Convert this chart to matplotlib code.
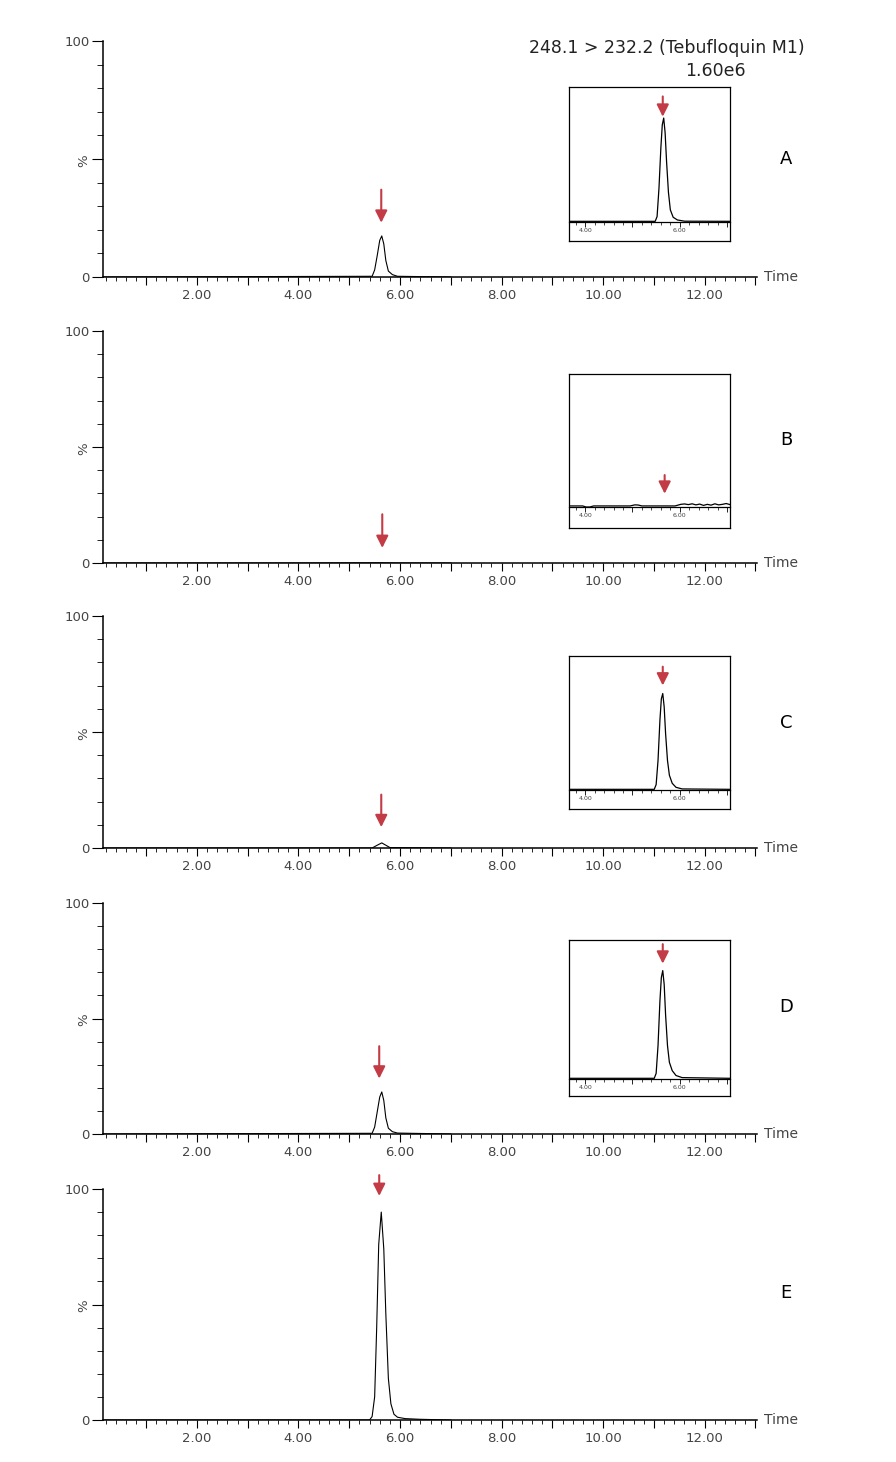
import matplotlib.pyplot as plt
from matplotlib.ticker import MultipleLocator, FixedLocator, FuncFormatter

W, H = 896, 1462

panels = ['A', 'B', 'C', 'D', 'E']
title = '248.1 > 232.2 (Tebufloquin M1)'
scale = '1.60e6'

# main chromatograms: time (min), intensity (%)
t_a = [0.15, 5.45, 5.50, 5.55, 5.60, 5.64, 5.68, 5.72, 5.77, 5.85, 5.95, 7.0]
i_a = [0.0, 0.3, 3.0, 9.0, 15.5, 17.4, 14.0, 7.0, 2.5, 1.0, 0.3, 0.0]
t_b = [0.15, 2.0, 4.0, 5.6, 6.0, 7.0]
i_b = [0.0, 0.0, 0.0, 0.1, 0.0, 0.0]
t_c = [0.15, 5.45, 5.55, 5.64, 5.72, 5.80, 7.0]
i_c = [0.0, 0.0, 1.2, 2.2, 1.2, 0.2, 0.0]
t_d = [0.15, 5.45, 5.50, 5.55, 5.60, 5.64, 5.68, 5.72, 5.77, 5.85, 5.95, 7.0]
i_d = [0.0, 0.3, 3.0, 9.5, 16.0, 18.2, 14.5, 7.0, 2.5, 1.0, 0.4, 0.0]
t_e = [0.15, 5.40, 5.45, 5.50, 5.54, 5.58, 5.63, 5.68, 5.72, 5.77, 5.82, 5.88, 5.95, 6.10, 6.40, 7.0]
i_e = [0.0, 0.0, 1.5, 10.0, 40.0, 76.0, 90.0, 74.0, 46.0, 18.0, 7.0, 2.5, 1.2, 0.6, 0.3, 0.0]
main_t = [t_a, t_b, t_c, t_d, t_e]
main_i = [i_a, i_b, i_c, i_d, i_e]

arrow_x = [5.63, 5.65, 5.63, 5.59, 5.59]
arrow_top = [37, 21, 23, 38, 106]
arrow_tip = [23, 6.5, 9, 24, 97]

# zoomed insets (panels A-D)
it_a = [3.66, 5.48, 5.52, 5.56, 5.60, 5.63, 5.66, 5.69, 5.72, 5.76, 5.80, 5.86, 5.95, 6.10, 7.06]
ii_a = [0.5, 0.5, 4.0, 25.0, 55.0, 72.0, 77.0, 66.0, 45.0, 22.0, 9.0, 3.5, 1.5, 0.6, 0.5]
it_b = [3.66, 3.95, 4.02, 4.10, 4.18, 4.5, 4.95, 5.05, 5.12, 5.20, 5.5, 5.9, 6.02, 6.1, 6.18,
        6.26, 6.34, 6.42, 6.5, 6.58, 6.66, 6.74, 6.82, 6.9, 6.98, 7.06]
ii_b = [0.8, 0.8, 0.0, 0.0, 0.8, 0.8, 0.8, 1.6, 1.5, 0.8, 0.8, 0.8, 2.0, 2.3, 1.8,
        2.4, 1.6, 2.2, 1.2, 2.0, 1.4, 2.4, 1.6, 2.0, 2.6, 1.8]
it_c = [3.66, 5.46, 5.50, 5.54, 5.58, 5.61, 5.64, 5.67, 5.70, 5.74, 5.78, 5.84, 5.92, 6.05, 7.06]
ii_c = [0.5, 0.5, 4.0, 22.0, 52.0, 68.0, 72.0, 62.0, 42.0, 22.0, 11.0, 5.0, 2.0, 0.8, 0.5]
it_d = [3.66, 5.46, 5.50, 5.54, 5.58, 5.61, 5.64, 5.67, 5.70, 5.74, 5.78, 5.84, 5.92, 6.05, 7.06]
ii_d = [0.5, 0.5, 4.0, 24.0, 56.0, 73.0, 78.0, 68.0, 46.0, 24.0, 12.0, 6.0, 2.5, 1.0, 0.5]
inset_t = [it_a, it_b, it_c, it_d]
inset_i = [ii_a, ii_b, ii_c, ii_d]

inset_arrow_x = [5.64, 5.68, 5.64, 5.64]
inset_arrow_top = [93, 24, 92, 97]
inset_arrow_tip = [78, 10, 78, 83]

red = '#c23b45'
grey = '#444444'

# pixel layout
main_box = [(41, 277), (331, 563), (616, 848), (903, 1134), (1189, 1420)]
inset_box = [(87, 241, 222), (374, 528, 507), (656, 809, 790), (940, 1096, 1079)]
letter_y = [50, 53, 54, 55, 55]


def rect(x0, y0, x1, y1):
    return [x0 / W, 1 - y1 / H, (x1 - x0) / W, (y1 - y0) / H]


def xfmt(v, p):
    r = round(v)
    if abs(v - r) < 1e-6 and r % 2 == 0 and r > 0:
        return '%.2f' % v
    return ''


def arrow(ax, x, top, tip):
    ax.annotate('', xy=(x, tip), xytext=(x, top),
                arrowprops=dict(arrowstyle='-|>,head_length=0.4,head_width=0.2',
                                color=red, lw=1.5, mutation_scale=18,
                                shrinkA=0, shrinkB=0),
                annotation_clip=False)


fig = plt.figure(figsize=(W / 100, H / 100), dpi=100)

for k, name in enumerate(panels):
    y0, y1 = main_box[k]
    ax = fig.add_axes(rect(103, y0, 757, y1))
    ax.plot(main_t[k], main_i[k], color='black', lw=0.8)
    ax.set_xlim(0.15, 13.03)
    ax.set_ylim(0, 100)
    for s in ['top', 'right']:
        ax.spines[s].set_visible(False)
    for s in ['left', 'bottom']:
        ax.spines[s].set_linewidth(1.1)
    ax.xaxis.set_major_locator(MultipleLocator(1))
    ax.xaxis.set_minor_locator(MultipleLocator(0.2))
    ax.xaxis.set_major_formatter(FuncFormatter(xfmt))
    ax.yaxis.set_major_locator(FixedLocator([0, 50, 100]))
    ax.yaxis.set_minor_locator(MultipleLocator(10))
    ax.set_yticklabels(['0', '%', '100'])
    ax.get_yticklabels()[1].set_rotation(90)
    ax.tick_params(axis='x', which='major', length=6, width=0.8, labelsize=9.5,
                   labelcolor=grey, pad=2.5)
    ax.tick_params(axis='x', which='minor', length=3, width=0.6)
    ax.tick_params(axis='y', which='major', length=8, width=0.8, labelsize=9.5,
                   labelcolor=grey, pad=1.5)
    ax.tick_params(axis='y', which='minor', length=4, width=0.6)
    ax.text(1.01, 0, 'Time', transform=ax.transAxes, fontsize=10, color=grey,
            ha='left', va='center')
    ax.text(13.6, letter_y[k], name, fontsize=13, ha='center', va='center',
            clip_on=False)
    arrow(ax, arrow_x[k], arrow_top[k], arrow_tip[k])

    if k < 4:
        b0, b1, base = inset_box[k]
        box = fig.add_axes(rect(569, b0, 730, b1))
        box.set_xticks([])
        box.set_yticks([])
        for s in box.spines.values():
            s.set_linewidth(0.9)
        ins = fig.add_axes(rect(569, b0, 730, base))
        ins.patch.set_alpha(0)
        ins.plot(inset_t[k], inset_i[k], color='black', lw=0.9)
        ins.set_xlim(3.66, 7.06)
        ins.set_ylim(0, 100)
        for s in ['top', 'right', 'left']:
            ins.spines[s].set_visible(False)
        ins.spines['bottom'].set_linewidth(0.9)
        ins.set_yticks([])
        ins.xaxis.set_major_locator(MultipleLocator(1))
        ins.xaxis.set_minor_locator(MultipleLocator(0.2))
        ins.xaxis.set_major_formatter(FuncFormatter(xfmt))
        ins.tick_params(axis='x', which='major', length=3.5, width=0.6,
                        labelsize=4.5, labelcolor=grey, pad=1)
        ins.tick_params(axis='x', which='minor', length=2, width=0.5)
        arrow(ins, inset_arrow_x[k], inset_arrow_top[k], inset_arrow_tip[k])

fig.text(805 / W, 1 - 48 / H, title, fontsize=12.5, ha='right', va='center', color='#222222')
fig.text(746 / W, 1 - 71 / H, scale, fontsize=12.5, ha='right', va='center', color='#222222')

plt.savefig('out.png', dpi=100)
